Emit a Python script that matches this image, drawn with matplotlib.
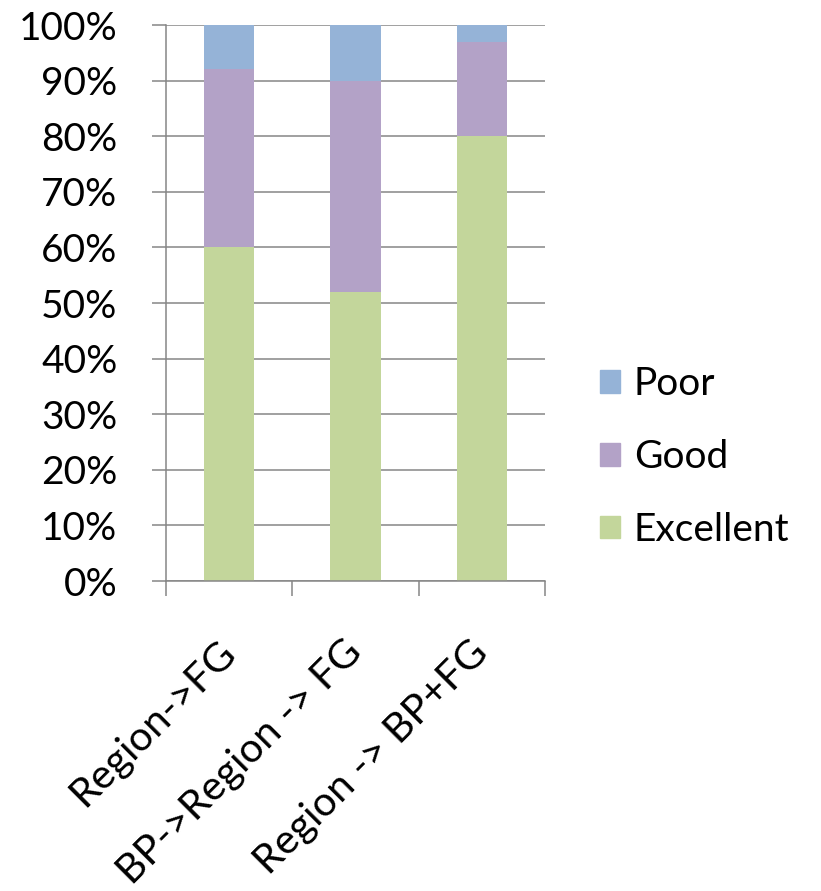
import matplotlib
matplotlib.use('Agg')
import matplotlib.pyplot as plt
from matplotlib.patches import Patch
from matplotlib.ticker import FixedLocator, PercentFormatter

plt.rcParams['font.family'] = ['Lato', 'DejaVu Sans']

# data (percent of total per category)
categories = ['Region->FG', 'BP->Region -> FG', 'Region -> BP+FG']
excellent = [60, 52, 80]
good = [32, 38, 17]
poor = [8, 10, 3]

colors = {'Excellent': '#C3D69B', 'Good': '#B3A2C7', 'Poor': '#95B3D7'}
grid_color = '#868686'

fig = plt.figure(figsize=(8.21, 8.91), dpi=100)
ax = fig.add_axes([166 / 821, 1 - 581 / 891, (545 - 166) / 821, (581 - 25) / 891])

x = list(range(len(categories)))
width = 0.4
bottom_good = excellent
bottom_poor = [e + g for e, g in zip(excellent, good)]
ax.bar(x, excellent, width, color=colors['Excellent'], zorder=2)
ax.bar(x, good, width, bottom=bottom_good, color=colors['Good'], zorder=2)
ax.bar(x, poor, width, bottom=bottom_poor, color=colors['Poor'], zorder=2)

ax.set_xlim(-0.5, len(categories) - 0.5)
ax.set_ylim(0, 100)

# y axis
ax.set_yticks(range(0, 101, 10))
ax.yaxis.set_major_formatter(PercentFormatter(decimals=0))
ax.yaxis.grid(True, color=grid_color, linewidth=1.1, zorder=0)
ax.set_axisbelow(True)
ax.tick_params(axis='y', length=10, width=1.1, color=grid_color, pad=25, labelsize=28)

# x axis: ticks at category boundaries, labels at centers
ax.set_xticks(x)
ax.set_xticklabels(categories, rotation=45, ha='right', va='center', rotation_mode='anchor')
ax.tick_params(axis='x', which='major', length=0, pad=47, labelsize=29.5)
ax.xaxis.set_minor_locator(FixedLocator([i - 0.5 for i in range(len(categories) + 1)]))
ax.tick_params(axis='x', which='minor', length=11, width=1.1, color=grid_color)

for side in ['top', 'right']:
    ax.spines[side].set_visible(False)
for side in ['left', 'bottom']:
    ax.spines[side].set_color(grid_color)
    ax.spines[side].set_linewidth(1.1)

handles = [Patch(color=colors[k]) for k in ['Poor', 'Good', 'Excellent']]
fig.legend(handles, ['Poor', 'Good', 'Excellent'], loc='center left',
           bbox_to_anchor=(600 / 821, 1 - 457 / 891), frameon=False,
           fontsize=28, handlelength=0.52, handleheight=0.52, handletextpad=0.35,
           labelspacing=0.95, borderpad=0, borderaxespad=0)

fig.savefig('out.png', dpi=100)
